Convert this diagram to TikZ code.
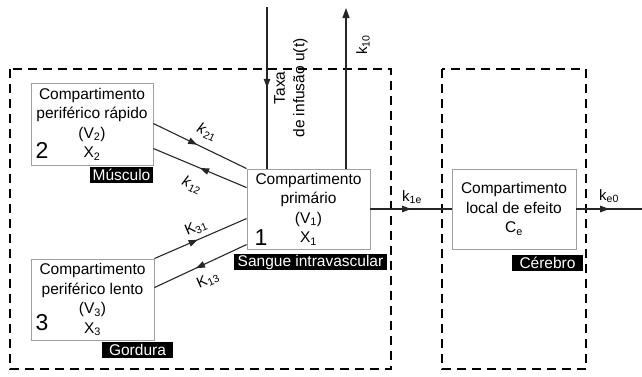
\documentclass[tikz,border=0pt]{standalone}
\usepackage{fontspec}
\setmainfont{Liberation Sans}
\usetikzlibrary{arrows.meta,decorations.markings,calc}
\definecolor{boxgray}{HTML}{A0A0A0}
\tikzset{
  txt/.style={font=\fontsize{15.5}{19.5}\selectfont, align=center, inner sep=0pt},
  comp/.style={draw=boxgray, line width=0.9pt, rectangle, inner sep=0pt, txt},
  bignum/.style={font=\fontsize{23}{23}\selectfont, inner sep=0pt},
  tag/.style={fill=black, text=white, font=\fontsize{15.5}{15.5}\selectfont, inner sep=0pt, minimum height=16pt},
  region/.style={draw=black, line width=1.4pt, dash pattern=on 9pt off 6pt},
  flow/.style={draw=black!85, line width=1.1pt},
  midarrow/.style={postaction={decorate}, decoration={markings,
      mark=at position #1 with {\arrow{Triangle[length=9pt,width=6.5pt]}}}},
  rate/.style={font=\fontsize{15}{15}\selectfont, inner sep=0pt},
}
\newcommand{\sbs}[1]{\textsubscript{#1}}
\begin{document}
\begin{tikzpicture}[x=1pt,y=-1pt]
\useasboundingbox (0,0) rectangle (642,376);

% dashed regions: body and effect site
\draw[region] (10,69) rectangle (391,369);
\draw[region] (442,69) rectangle (586,369);

% compartments
\node[comp, minimum width=122pt, minimum height=82pt] (b2) at (92,124)
  {Compartimento\\periférico rápido\\(V\sbs{2})\\X\sbs{2}};
\node[comp, minimum width=123pt, minimum height=81pt] (b3) at (92.5,299.5)
  {Compartimento\\periférico lento\\(V\sbs{3})\\X\sbs{3}};
\node[comp, minimum width=123pt, minimum height=80pt] (p) at (308.5,209)
  {Compartimento\\primário\\(V\sbs{1})\\X\sbs{1}};
\node[comp, minimum width=124pt, minimum height=80pt] (e) at (514,209)
  {Compartimento\\local de efeito\\C\sbs{e}};

% compartment numbers
\node[bignum] (n2) at (42,150) {2};
\node[bignum] (n3) at (42,323) {3};
\node[bignum] (n1) at (261,238) {1};

% tissue tags
\node[tag, minimum width=63pt] (t2) at (121.5,174.5) {Músculo};
\node[tag, minimum width=153pt] (t1) at (310.5,262) {Sangue intravascular};
\node[tag, minimum width=71pt] (t3) at (137.5,350) {Gordura};
\node[tag, minimum width=71pt] (te) at (547.5,263) {Cérebro};

% exchange between central and peripheral compartments
\draw[flow, midarrow=0.47] ([yshift=-41pt]b2.north east) -- (p.north west);
\draw[flow, midarrow=0.5] ([yshift=-19pt]p.north west) -- ([yshift=-66pt]b2.north east);
\draw[flow, midarrow=0.47] (b3.north east) -- ([yshift=-50pt]p.north west);
\draw[flow, midarrow=0.55] ([yshift=-76pt]p.north west) -- ([yshift=-29pt]b3.north east);

\node[rate, rotate=-26] (l21) at (207,132) {\textit{k}\sbs{21}};
\node[rate, rotate=-26] (l12) at (192,185) {\textit{k}\sbs{12}};
\node[rate, rotate=23] (l31) at (196,228) {K\sbs{31}};
\node[rate, rotate=24] (l13) at (208,280) {K\sbs{13}};

% infusion input and elimination
\coordinate (inTop) at (267,7);
\coordinate (outTop) at (346,8);
\draw[flow, midarrow=0.5] (inTop) -- (inTop |- p.north);
\draw[flow, -{Triangle[length=10pt,width=7pt]}] (outTop |- p.north) -- (outTop);
\node[txt, rotate=90] (rate) at (291,88) {Taxa\\de infusão u(t)};
\node[rate, rotate=90] (l10) at (363,45) {k\sbs{10}};

% transfer to and from the effect site
\coordinate (outRight) at (642,209);
\draw[flow, midarrow=0.5] (p.east) -- (e.west);
\draw[flow, midarrow=0.5] (e.east) -- (outRight);
\node[rate] (l1e) at (412,197) {k\sbs{1e}};
\node[rate] (le0) at (609,196) {k\sbs{e0}};
\end{tikzpicture}
\end{document}
